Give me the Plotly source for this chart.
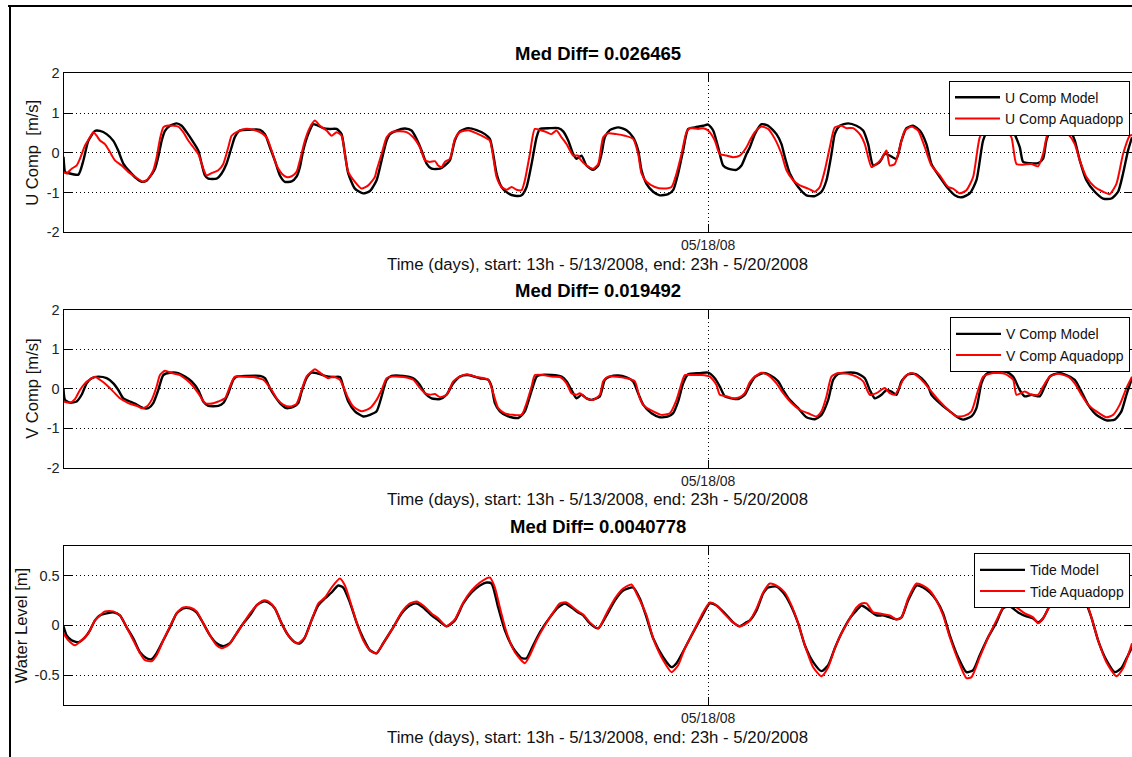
import pandas as pd
import plotly.graph_objects as go

# Record start: 13h on 5/13/2008; samples are (hours since start, value)
START = pd.Timestamp("2008-05-13 13:00")
X_END_HOURS = 177.35
DAY_TICKS = [pd.Timestamp("2008-05-18")]
DAY_LABELS = ["05/18/08"]

TITLES = ["Med Diff= 0.026465", "Med Diff= 0.019492", "Med Diff= 0.0040778"]
Y_TITLES = ["U Comp  [m/s]", "V Comp [m/s]", "Water Level [m]"]
X_TITLE = "Time (days), start: 13h - 5/13/2008, end: 23h - 5/20/2008"
LEGEND_NAMES = [("U Comp Model", "U Comp Aquadopp"),
                ("V Comp Model", "V Comp Aquadopp"),
                ("Tide Model", "Tide Aquadopp")]

U_MODEL = [(0.00,-0.10),(0.30,-0.50),(0.52,-0.50),(2.46,-0.55),(3.29,-0.20),(4.12,0.30),(5.22,0.55),(6.05,0.55),(7.16,0.47),(8.27,0.30),(9.10,0.05),(9.92,-0.27),(11.03,-0.48),(12.14,-0.65),(12.97,-0.73),(13.80,-0.70),(14.35,-0.60),(15.18,-0.40),(15.73,-0.10),(16.29,0.30),(16.84,0.55),(17.67,0.68),(18.77,0.74),(19.60,0.68),(20.43,0.52),(21.54,0.27),(22.37,0.06),(22.92,-0.27),(23.48,-0.57),(24.03,-0.65),(25.41,-0.65),(26.24,-0.52),(27.07,-0.27),(27.90,0.14),(28.45,0.40),(29.28,0.56),(30.94,0.58),(32.60,0.58),(33.43,0.47),(34.26,0.14),(35.09,-0.20),(35.92,-0.57),(36.75,-0.73),(37.86,-0.72),(38.68,-0.60),(39.24,-0.36),(39.79,0.06),(40.62,0.47),(41.45,0.72),(42.00,0.70),(43.11,0.62),(44.22,0.60),(45.32,0.60),(46.15,0.47),(46.71,-0.03),(47.26,-0.52),(48.37,-0.90),(49.75,-1.02),(50.86,-0.96),(51.97,-0.69),(52.80,-0.19),(53.63,0.31),(54.18,0.47),(55.28,0.56),(56.67,0.61),(57.77,0.56),(58.60,0.35),(59.43,0.06),(60.26,-0.27),(61.09,-0.40),(62.47,-0.40),(63.30,-0.32),(64.13,-0.19),(64.96,0.31),(65.79,0.54),(67.18,0.62),(68.56,0.57),(69.94,0.47),(70.77,0.35),(71.32,-0.03),(71.88,-0.52),(72.71,-0.86),(73.81,-1.02),(74.92,-1.08),(76.03,-1.07),(76.86,-0.86),(77.69,-0.28),(78.52,0.39),(79.07,0.60),(80.73,0.62),(82.11,0.62),(82.94,0.54),(83.77,0.31),(84.60,-0.03),(85.15,-0.15),(85.98,-0.07),(86.81,-0.32),(87.92,-0.43),(88.75,-0.32),(89.30,-0.03),(89.85,0.39),(90.68,0.57),(92.07,0.64),(93.45,0.57),(94.55,0.39),(95.38,0.06),(95.94,-0.44),(96.77,-0.78),(97.87,-0.98),(98.98,-1.07),(100.36,-1.04),(101.19,-0.94),(102.02,-0.52),(102.85,0.06),(103.68,0.60),(104.79,0.64),(106.17,0.68),(107.00,0.71),(107.83,0.56),(108.66,0.14),(109.49,-0.32),(110.32,-0.40),(111.70,-0.43),(112.53,-0.32),(113.36,-0.03),(113.92,0.14),(114.75,0.47),(115.86,0.72),(116.96,0.68),(118.34,0.47),(119.17,0.22),(119.73,-0.11),(120.56,-0.52),(121.94,-0.86),(123.32,-1.07),(124.71,-1.09),(125.81,-0.98),(126.64,-0.69),(127.47,-0.03),(128.02,0.47),(128.85,0.68),(130.24,0.74),(131.62,0.68),(132.73,0.56),(133.56,0.22),(134.39,-0.32),(135.49,-0.23),(136.32,-0.03),(137.15,-0.07),(138.26,-0.15),(139.09,0.31),(139.92,0.62),(141.02,0.68),(142.13,0.56),(143.23,0.22),(144.06,-0.28),(145.45,-0.61),(146.83,-0.90),(147.94,-1.07),(149.04,-1.12),(150.42,-1.02),(151.53,-0.69),(152.64,0.31),(153.47,0.57),(154.85,0.62),(156.51,0.62),(157.62,0.52),(158.72,0.14),(159.28,-0.23),(160.38,-0.26),(161.76,-0.26),(162.59,-0.15),(163.14,0.31),(163.97,0.62),(165.64,0.62),(167.02,0.57),(167.85,0.31),(168.68,-0.19),(169.78,-0.69),(171.17,-0.98),(172.55,-1.15),(173.93,-1.15),(175.04,-0.98),(175.87,-0.52),(176.70,0.06),(177.35,0.39)]

U_AQUADOPP = [(0.00,-0.48),(0.52,-0.52),(1.35,-0.40),(2.18,-0.32),(2.73,-0.15),(3.56,0.18),(4.39,0.39),(4.95,0.52),(5.50,0.43),(6.05,0.31),(6.88,0.22),(7.71,0.02),(8.54,-0.19),(9.65,-0.32),(10.75,-0.48),(11.58,-0.57),(12.69,-0.69),(13.24,-0.73),(14.07,-0.65),(14.90,-0.44),(15.46,-0.11),(16.01,0.35),(16.56,0.64),(17.11,0.68),(18.22,0.68),(19.05,0.66),(19.88,0.52),(20.71,0.31),(21.54,0.14),(22.37,-0.03),(23.20,-0.40),(23.75,-0.57),(24.58,-0.51),(25.69,-0.44),(26.52,-0.28),(27.35,0.14),(27.90,0.43),(28.73,0.52),(30.11,0.60),(31.49,0.58),(32.60,0.52),(33.71,0.39),(34.54,0.06),(35.37,-0.32),(36.20,-0.52),(37.03,-0.61),(37.86,-0.59),(38.68,-0.48),(39.24,-0.19),(40.07,0.31),(40.90,0.64),(41.73,0.81),(42.56,0.68),(43.66,0.56),(44.49,0.43),(45.32,0.52),(46.15,0.43),(46.71,-0.03),(47.26,-0.48),(48.37,-0.73),(49.47,-0.90),(50.58,-0.82),(51.68,-0.61),(51.97,-0.44),(52.80,-0.03),(53.63,0.39),(54.46,0.52),(55.84,0.54),(56.94,0.52),(58.05,0.39),(59.16,0.14),(59.99,-0.19),(60.82,-0.23),(61.65,-0.21),(62.20,-0.32),(62.75,-0.36),(63.30,-0.23),(64.13,-0.15),(64.96,0.35),(65.79,0.52),(67.18,0.57),(68.56,0.49),(69.94,0.39),(70.77,0.31),(71.32,-0.11),(71.88,-0.61),(72.71,-0.86),(73.54,-0.93),(74.37,-0.86),(75.20,-0.93),(76.03,-0.94),(76.58,-0.69),(77.41,-0.03),(78.24,0.60),(79.34,0.56),(80.17,0.52),(81.00,0.47),(81.83,0.56),(82.66,0.39),(83.49,0.22),(84.60,-0.07),(85.43,-0.07),(85.70,-0.15),(86.81,-0.32),(87.92,-0.40),(88.75,-0.28),(89.58,0.39),(90.41,0.49),(91.79,0.47),(93.17,0.43),(94.55,0.35),(95.38,-0.03),(95.94,-0.52),(96.77,-0.73),(98.15,-0.86),(99.53,-0.90),(100.92,-0.86),(101.75,-0.52),(102.58,-0.03),(103.40,0.52),(103.96,0.62),(105.34,0.60),(106.17,0.62),(107.00,0.56),(108.10,0.31),(108.93,-0.03),(110.04,-0.07),(111.15,-0.11),(112.25,-0.07),(113.36,0.14),(113.92,0.31),(114.75,0.52),(115.86,0.66),(116.96,0.60),(118.07,0.35),(119.17,-0.03),(120.00,-0.44),(121.11,-0.69),(122.22,-0.82),(123.60,-0.90),(124.71,-0.98),(125.53,-0.86),(126.36,-0.44),(127.19,0.14),(128.02,0.64),(129.13,0.68),(129.96,0.62),(131.07,0.62),(132.17,0.47),(133.00,0.22),(134.11,-0.36),(134.94,-0.28),(135.77,-0.15),(136.60,0.06),(137.15,-0.32),(137.98,-0.28),(138.81,0.14),(139.64,0.56),(140.75,0.66),(141.85,0.56),(142.96,0.14),(144.06,-0.32),(145.45,-0.57),(146.83,-0.86),(147.66,-0.90),(148.77,-1.02),(149.87,-0.94),(150.98,-0.61),(152.08,0.39),(152.91,0.57),(154.30,0.60),(156.23,0.60),(157.34,0.39),(158.17,-0.28),(159.28,-0.30),(160.66,-0.28),(161.76,-0.34),(162.59,-0.03),(163.42,0.52),(164.25,0.60),(165.64,0.57),(166.74,0.47),(167.85,0.22),(168.68,-0.19),(169.78,-0.61),(171.17,-0.86),(172.55,-0.98),(173.65,-1.04),(174.76,-0.78),(175.87,-0.03),(176.98,0.43),(177.35,0.45)]

V_MODEL = [(0.00,0.00),(0.25,-0.28),(1.07,-0.35),(2.18,-0.32),(3.01,-0.15),(3.84,0.14),(4.67,0.27),(5.78,0.31),(7.16,0.27),(8.27,0.14),(9.10,-0.03),(9.92,-0.24),(11.03,-0.32),(12.14,-0.40),(13.24,-0.49),(14.07,-0.49),(14.90,-0.36),(15.73,-0.03),(16.56,0.35),(17.67,0.41),(19.05,0.40),(20.16,0.31),(21.26,0.19),(22.37,-0.03),(23.20,-0.32),(24.03,-0.43),(25.69,-0.43),(26.52,-0.36),(27.35,-0.11),(28.18,0.23),(28.73,0.31),(30.39,0.33),(32.60,0.33),(33.43,0.27),(34.26,0.02),(35.09,-0.19),(35.92,-0.36),(37.03,-0.49),(38.13,-0.46),(38.96,-0.36),(39.52,-0.07),(40.34,0.27),(41.17,0.41),(42.00,0.40),(43.39,0.33),(44.77,0.30),(45.88,0.30),(46.43,0.06),(47.26,-0.32),(48.37,-0.57),(49.75,-0.70),(50.86,-0.66),(51.97,-0.57),(52.80,-0.19),(53.63,0.23),(54.46,0.33),(56.39,0.33),(58.05,0.27),(59.16,0.10),(59.99,-0.11),(61.09,-0.24),(62.47,-0.26),(63.58,-0.15),(64.69,0.14),(65.79,0.31),(67.18,0.35),(69.11,0.27),(70.49,0.23),(71.05,0.06),(71.60,-0.36),(72.43,-0.57),(73.81,-0.70),(75.47,-0.74),(76.58,-0.57),(77.41,-0.19),(78.52,0.31),(79.07,0.35),(81.00,0.35),(82.66,0.31),(83.49,0.19),(84.32,-0.03),(85.15,-0.24),(85.98,-0.15),(86.81,-0.24),(87.64,-0.28),(89.02,-0.19),(89.85,0.23),(90.68,0.31),(92.07,0.34),(93.45,0.29),(94.55,0.19),(95.38,-0.11),(96.21,-0.40),(97.60,-0.62),(98.98,-0.72),(100.36,-0.70),(101.19,-0.62),(102.02,-0.32),(102.85,0.14),(103.68,0.37),(105.62,0.40),(107.00,0.41),(108.10,0.27),(108.93,0.06),(109.77,-0.19),(110.87,-0.24),(111.98,-0.26),(113.08,-0.15),(113.92,0.10),(114.75,0.30),(116.13,0.40),(117.24,0.35),(118.62,0.19),(119.45,-0.03),(120.56,-0.28),(121.94,-0.49),(123.32,-0.72),(124.71,-0.77),(125.81,-0.66),(126.92,-0.28),(127.75,0.23),(128.58,0.38),(129.96,0.41),(131.62,0.40),(133.00,0.27),(133.83,-0.03),(134.66,-0.24),(135.77,-0.15),(136.60,-0.03),(137.43,-0.07),(138.26,-0.15),(139.09,0.19),(140.19,0.37),(141.30,0.38),(142.40,0.27),(143.51,0.06),(144.06,-0.15),(145.72,-0.40),(147.11,-0.57),(148.21,-0.70),(149.32,-0.78),(150.70,-0.70),(151.53,-0.49),(152.36,0.14),(153.19,0.38),(154.85,0.44),(156.51,0.43),(157.62,0.31),(158.72,-0.03),(159.55,-0.19),(160.66,-0.15),(162.04,-0.19),(162.87,0.06),(163.70,0.31),(165.08,0.40),(166.46,0.35),(167.85,0.23),(168.95,-0.07),(170.06,-0.40),(171.44,-0.66),(173.10,-0.80),(174.48,-0.78),(175.59,-0.57),(176.42,-0.15),(177.35,0.27)]

V_AQUADOPP = [(0.00,-0.32),(1.07,-0.35),(1.90,-0.26),(2.73,-0.03),(3.56,0.14),(4.39,0.24),(5.22,0.31),(6.05,0.23),(7.16,0.10),(8.27,-0.07),(9.37,-0.24),(10.75,-0.36),(12.14,-0.43),(12.97,-0.49),(13.80,-0.45),(14.63,-0.28),(15.46,0.06),(16.01,0.35),(16.84,0.46),(17.94,0.40),(19.33,0.35),(20.43,0.23),(21.54,0.06),(22.37,-0.11),(23.48,-0.36),(24.31,-0.38),(25.69,-0.32),(26.80,-0.24),(27.62,0.06),(28.45,0.31),(29.84,0.31),(31.49,0.30),(33.15,0.23),(34.54,-0.03),(35.37,-0.24),(36.47,-0.40),(37.58,-0.45),(38.68,-0.38),(39.52,-0.03),(40.34,0.31),(41.17,0.44),(41.73,0.50),(42.83,0.38),(43.94,0.27),(44.77,0.31),(45.88,0.23),(46.43,0.06),(47.26,-0.24),(48.09,-0.45),(49.47,-0.57),(50.86,-0.49),(51.97,-0.28),(52.80,-0.03),(53.63,0.27),(54.46,0.31),(56.39,0.30),(58.05,0.23),(59.16,0.02),(59.99,-0.11),(60.82,-0.15),(61.65,-0.13),(62.47,-0.21),(63.58,-0.15),(64.69,0.19),(65.79,0.31),(66.90,0.37),(68.56,0.30),(70.49,0.23),(71.32,-0.11),(72.15,-0.49),(73.26,-0.62),(74.64,-0.66),(76.03,-0.66),(76.86,-0.36),(77.69,0.06),(78.24,0.35),(79.62,0.35),(81.00,0.31),(82.39,0.30),(83.49,0.14),(84.32,-0.11),(85.15,-0.15),(85.70,-0.11),(86.81,-0.24),(87.92,-0.28),(89.02,-0.15),(89.58,0.19),(90.41,0.31),(91.79,0.31),(93.45,0.27),(94.83,0.19),(95.66,-0.24),(96.49,-0.45),(97.87,-0.57),(99.26,-0.66),(100.64,-0.62),(101.75,-0.28),(102.58,0.14),(103.13,0.35),(104.51,0.35),(105.89,0.35),(107.28,0.31),(108.38,0.10),(108.93,-0.15),(110.04,-0.19),(111.15,-0.24),(112.25,-0.21),(113.08,-0.11),(113.92,0.17),(114.75,0.31),(115.86,0.41),(116.96,0.35),(118.34,0.14),(119.45,-0.11),(120.83,-0.36),(122.22,-0.53),(123.60,-0.62),(124.98,-0.70),(125.81,-0.57),(126.64,-0.19),(127.47,0.31),(128.58,0.40),(130.24,0.38),(131.62,0.31),(132.73,0.19),(133.83,-0.15),(134.94,-0.11),(136.32,0.02),(137.15,-0.11),(137.98,-0.15),(138.81,0.06),(139.64,0.31),(140.75,0.40),(141.85,0.31),(142.96,0.14),(144.06,-0.07),(145.45,-0.32),(146.83,-0.53),(148.21,-0.70),(149.59,-0.68),(150.70,-0.57),(151.81,-0.03),(152.64,0.31),(154.30,0.40),(156.23,0.38),(157.62,0.23),(158.17,-0.15),(159.55,-0.07),(160.66,-0.15),(161.76,-0.15),(162.59,0.06),(163.70,0.31),(165.08,0.38),(166.74,0.31),(167.85,0.14),(168.95,-0.15),(170.06,-0.40),(171.44,-0.57),(173.10,-0.72),(174.21,-0.66),(175.32,-0.40),(176.42,0.02),(177.35,0.31)]

TIDE_MODEL = [(0.00,-0.01),(0.52,-0.10),(1.35,-0.15),(2.46,-0.17),(3.56,-0.12),(4.39,-0.05),(5.22,0.05),(6.05,0.10),(7.16,0.12),(8.27,0.13),(9.37,0.10),(10.48,-0.02),(11.58,-0.13),(12.69,-0.27),(13.80,-0.33),(14.63,-0.34),(15.46,-0.28),(16.56,-0.15),(17.67,-0.02),(18.77,0.12),(19.88,0.17),(20.98,0.17),(22.09,0.13),(23.20,0.02),(24.31,-0.10),(25.41,-0.18),(26.52,-0.21),(27.62,-0.18),(28.73,-0.08),(29.84,0.02),(30.94,0.10),(32.05,0.20),(33.15,0.24),(33.99,0.23),(35.09,0.17),(36.20,0.02),(37.30,-0.10),(38.41,-0.17),(39.24,-0.18),(40.07,-0.12),(41.17,0.05),(42.28,0.20),(43.39,0.27),(44.49,0.33),(45.60,0.40),(46.43,0.38),(47.54,0.23),(48.64,0.03),(49.75,-0.13),(50.86,-0.25),(51.97,-0.28),(53.07,-0.18),(54.73,-0.02),(56.11,0.12),(57.50,0.20),(58.60,0.22),(59.71,0.18),(61.09,0.10),(62.20,0.05),(63.58,-0.01),(64.96,0.05),(66.35,0.22),(67.73,0.33),(69.11,0.40),(70.22,0.43),(71.05,0.42),(72.15,0.18),(73.26,-0.05),(74.64,-0.23),(76.03,-0.33),(76.86,-0.33),(77.96,-0.20),(79.07,-0.07),(80.73,0.08),(82.11,0.18),(83.22,0.22),(84.32,0.18),(85.43,0.13),(86.26,0.10),(87.36,0.02),(88.75,-0.03),(90.13,0.10),(91.51,0.25),(92.90,0.35),(94.55,0.38),(95.66,0.27),(96.77,0.08),(97.87,-0.13),(99.53,-0.32),(100.92,-0.42),(101.75,-0.38),(103.13,-0.23),(104.51,-0.07),(105.89,0.08),(107.28,0.22),(108.38,0.20),(109.77,0.12),(111.15,0.03),(112.25,-0.01),(113.36,0.03),(113.92,0.05),(115.03,0.15),(116.13,0.32),(116.96,0.38),(118.34,0.39),(119.45,0.33),(120.56,0.22),(121.94,0.02),(123.05,-0.20),(124.43,-0.37),(125.81,-0.46),(126.92,-0.40),(128.02,-0.23),(129.13,-0.08),(130.51,0.07),(131.62,0.15),(132.45,0.20),(133.56,0.16),(134.94,0.10),(136.04,0.10),(137.15,0.08),(138.26,0.06),(139.09,0.08),(140.19,0.25),(141.58,0.40),(142.68,0.38),(143.79,0.33),(144.89,0.25),(146.00,0.12),(147.11,-0.10),(148.49,-0.32),(149.87,-0.47),(150.98,-0.45),(152.08,-0.30),(153.47,-0.12),(154.85,0.03),(155.95,0.17),(157.06,0.19),(158.45,0.13),(159.83,0.09),(160.93,0.07),(161.76,0.03),(162.59,0.07),(163.70,0.20),(164.81,0.33),(167.02,0.43),(169.51,0.25),(170.61,0.08),(171.72,-0.15),(173.10,-0.35),(174.48,-0.47),(175.59,-0.43),(176.70,-0.30),(177.35,-0.22)]

TIDE_AQUADOPP = [(0.00,-0.08),(0.80,-0.15),(1.90,-0.20),(3.01,-0.15),(4.12,-0.08),(5.22,0.05),(6.05,0.10),(6.88,0.14),(8.27,0.14),(9.37,0.10),(10.48,-0.02),(11.58,-0.15),(12.69,-0.28),(13.52,-0.35),(14.63,-0.36),(15.46,-0.30),(16.56,-0.15),(17.67,-0.01),(18.77,0.12),(19.88,0.18),(20.98,0.18),(22.09,0.14),(23.20,0.02),(24.31,-0.10),(25.41,-0.20),(26.24,-0.23),(27.35,-0.20),(28.73,-0.08),(29.84,0.02),(30.94,0.12),(32.05,0.20),(33.15,0.25),(33.99,0.24),(35.09,0.17),(36.20,0.02),(37.30,-0.10),(38.41,-0.17),(38.96,-0.18),(40.07,-0.12),(41.17,0.05),(42.28,0.22),(43.39,0.28),(44.49,0.38),(45.88,0.47),(46.71,0.40),(47.54,0.25),(48.64,0.03),(49.75,-0.15),(50.86,-0.25),(51.68,-0.28),(51.97,-0.28),(53.07,-0.18),(54.73,-0.02),(56.11,0.13),(57.50,0.22),(58.60,0.24),(59.71,0.20),(61.09,0.12),(62.20,0.07),(63.58,-0.01),(64.96,0.06),(66.35,0.23),(67.73,0.35),(69.11,0.43),(70.77,0.48),(71.60,0.38),(72.43,0.18),(73.54,-0.07),(74.92,-0.27),(76.58,-0.38),(77.41,-0.30),(78.52,-0.15),(79.90,0.00),(81.28,0.13),(82.39,0.22),(83.49,0.23),(84.60,0.18),(85.43,0.14),(86.26,0.11),(87.36,0.03),(88.75,-0.03),(90.13,0.12),(91.51,0.27),(92.90,0.37),(94.28,0.41),(95.11,0.32),(96.77,0.10),(97.87,-0.13),(99.53,-0.35),(100.92,-0.47),(102.02,-0.40),(103.13,-0.23),(104.51,-0.07),(105.89,0.10),(107.28,0.23),(108.38,0.20),(109.77,0.11),(111.15,0.03),(112.25,-0.01),(113.36,0.02),(113.92,0.05),(115.03,0.17),(116.13,0.33),(117.24,0.42),(118.62,0.39),(119.73,0.33),(120.83,0.20),(121.94,0.02),(123.05,-0.20),(124.43,-0.42),(125.81,-0.51),(126.92,-0.42),(128.02,-0.23),(129.13,-0.08),(130.51,0.07),(131.62,0.18),(132.45,0.22),(133.28,0.22),(134.39,0.13),(135.49,0.12),(136.32,0.11),(137.15,0.10),(138.26,0.06),(139.09,0.08),(140.19,0.27),(141.58,0.42),(142.68,0.40),(143.79,0.35),(144.89,0.25),(146.00,0.10),(147.11,-0.12),(148.49,-0.35),(149.87,-0.53),(150.70,-0.52),(152.08,-0.32),(153.47,-0.12),(154.85,0.05),(155.95,0.18),(156.78,0.22),(158.17,0.18),(159.55,0.12),(160.93,0.08),(161.76,0.02),(162.59,0.07),(163.70,0.20),(164.81,0.35),(167.02,0.45),(169.51,0.28),(170.61,0.08),(171.72,-0.15),(173.10,-0.37),(174.76,-0.51),(175.87,-0.43),(176.70,-0.30),(177.35,-0.18)]

SERIES = [(U_MODEL, U_AQUADOPP), (V_MODEL, V_AQUADOPP), (TIDE_MODEL, TIDE_AQUADOPP)]
Y_RANGES = [(-2, 2), (-2, 2), (-0.8, 0.8)]
Y_TICKS = [[-2, -1, 0, 1, 2], [-2, -1, 0, 1, 2], [-0.5, 0, 0.5]]
Y_TICK_LABELS = [["-2", "-1", "0", "1", "2"], ["-2", "-1", "0", "1", "2"], ["-0.5", "0", "0.5"]]

# ---- page geometry (pixels) ----
W, H = 1132, 757
AX_LEFT = 63.5
PANELS = [(73.3, 232.3), (310.0, 467.7), (545.7, 705.0)]  # (top, bottom) of each axes box
LEGEND_TOPS = [80.7, 317.3, 553.3]
FONT = "Liberation Sans, Arial, sans-serif"


def px_x(p):
    return p / W


def px_y(p):
    return 1 - p / H


def as_time(hours):
    return START + pd.to_timedelta(hours, unit="h")


fig = go.Figure()
annotations = []
legend_ids = ["legend", "legend2", "legend3"]

for i, ((model, obs), (top, bot)) in enumerate(zip(SERIES, PANELS)):
    n = "" if i == 0 else str(i + 1)
    for data, color, width, name in ((model, "black", 2.4, LEGEND_NAMES[i][0]),
                                     (obs, "#ff0000", 2.0, LEGEND_NAMES[i][1])):
        hrs, vals = zip(*data)
        fig.add_trace(go.Scatter(
            x=as_time(list(hrs)), y=list(vals), mode="lines", name=name,
            line=dict(color=color, width=width, shape="spline", smoothing=0.6),
            xaxis="x" + n, yaxis="y" + n, legend=legend_ids[i], hoverinfo="skip",
        ))

    fig.update_layout({
        "xaxis" + n: dict(
            domain=[px_x(AX_LEFT), 1.0], anchor="y" + n, automargin=False,
            range=[START, as_time(X_END_HOURS)],
            tickmode="array", tickvals=DAY_TICKS, ticktext=DAY_LABELS,
            ticks="inside", ticklen=8, tickwidth=1, tickcolor="black",
            showline=True, linecolor="black", linewidth=1, mirror="ticks",
            showgrid=True, gridcolor="black", gridwidth=1, griddash="1px,3px",
            zeroline=False, tickfont=dict(family=FONT, size=14, color="#222"),
        ),
        "yaxis" + n: dict(
            domain=[px_y(bot), px_y(top)], anchor="x" + n, automargin=False,
            range=list(Y_RANGES[i]),
            tickmode="array", tickvals=Y_TICKS[i], ticktext=Y_TICK_LABELS[i],
            ticks="inside", ticklen=8, tickwidth=1, tickcolor="black",
            showline=True, linecolor="black", linewidth=1, mirror="ticks",
            showgrid=True, gridcolor="black", gridwidth=1, griddash="1px,3px",
            zeroline=False, tickfont=dict(family=FONT, size=14.5, color="#222"),
        ),
        legend_ids[i]: dict(
            x=px_x(1130), xanchor="right", y=px_y(LEGEND_TOPS[i]), yanchor="top",
            bgcolor="white", bordercolor="black", borderwidth=1,
            font=dict(family=FONT, size=14, color="#111"),
            itemwidth=45, tracegroupgap=0,
        ),
    })

    # panel title, time-axis caption and vertical quantity label
    annotations.append(dict(
        text="<b>" + TITLES[i] + "</b>", x=px_x(598), y=px_y(top - 19.5),
        xref="paper", yref="paper", xanchor="center", yanchor="middle",
        showarrow=False, font=dict(family=FONT, size=18.5, color="black"),
    ))
    annotations.append(dict(
        text=X_TITLE, x=px_x(597), y=px_y(bot + 32.2),
        xref="paper", yref="paper", xanchor="center", yanchor="middle",
        showarrow=False, font=dict(family=FONT, size=16.8, color="#111"),
    ))
    annotations.append(dict(
        text=Y_TITLES[i], x=px_x(33 if i < 2 else 21), y=px_y((top + bot) / 2),
        xref="paper", yref="paper", xanchor="center", yanchor="middle",
        textangle=-90, showarrow=False, font=dict(family=FONT, size=16.6, color="#111"),
    ))

# outer figure frame (top and left edges)
shapes = [
    dict(type="line", xref="paper", yref="paper", x0=px_x(8), x1=1.0, y0=px_y(6), y1=px_y(6),
         line=dict(color="black", width=2)),
    dict(type="line", xref="paper", yref="paper", x0=px_x(10), x1=px_x(10), y0=0.0, y1=px_y(5),
         line=dict(color="black", width=2)),
]

fig.update_layout(
    template="none",
    width=W, height=H, autosize=False,
    margin=dict(l=0, r=0, t=0, b=0, pad=0, autoexpand=False),
    paper_bgcolor="white", plot_bgcolor="white",
    annotations=annotations, shapes=shapes, showlegend=True,
    font=dict(family=FONT, color="black"),
)

fig.write_html("out.html")
